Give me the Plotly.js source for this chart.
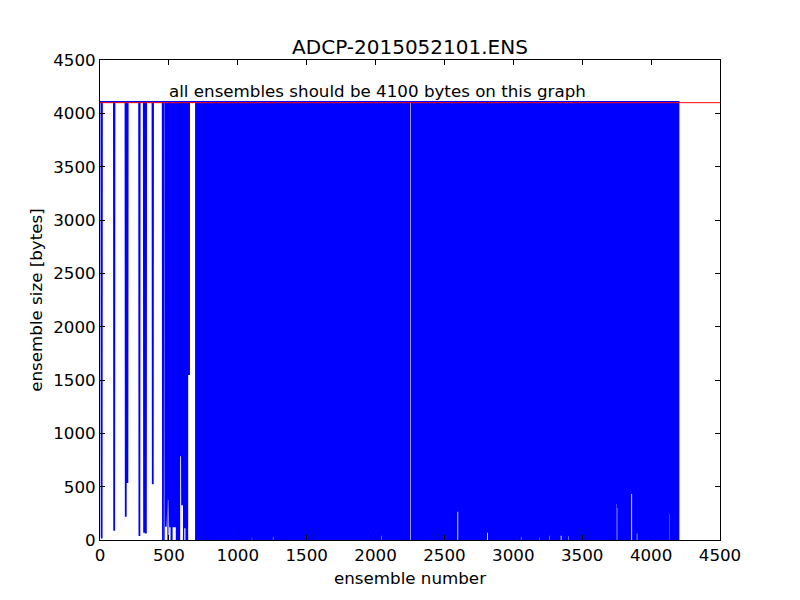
<!DOCTYPE html>
<html>
<head>
<meta charset="utf-8">
<script src="https://cdn.plot.ly/plotly-3.0.1.min.js"></script>
<style>
    body { margin: 0; background: #fff; }
    #ensemble-sizes { width: 800px; height: 600px; }
</style>
</head>
<body>
<div id="ensemble-sizes"></div>
<script>
var fileName = 'ADCP-2015052101.ENS';
var expectedBytes = 4100;
var fullBytes = 4108;      // good ensembles, as they sit on the graph
var lastEnsemble = 4205;

// single short ensembles near the start of the file
var shortEnsembles = [12, 103, 187, 199, 286, 320, 333, 383, 457];
var shortBytes     = [15, 87, 219, 534, 37, 69, 60, 522, 0];

// stretches where the short ensembles come so often they look like a solid band
var bandStart = [467, 690, 2256];
var bandEnd   = [653, 2252, 4205];

// places inside those stretches where the short ensembles stay above zero
var liftFrom  = [472, 487, 497, 503, 527, 582, 590, 612, 640, 1102, 1255, 2043, 2594, 2810, 3055, 3188, 3260, 3344, 3401, 3750, 3755, 3856, 3896, 4132];
var liftTo    = [484, 489, 499, 512, 550, 588, 602, 620, 653, 1104, 1258, 2046, 2600, 2816, 3058, 3190, 3263, 3350, 3404, 3752, 3757, 3862, 3900, 4134];
var liftBytes = [125, 405, 375, 120, 120, 785, 325, 110, 1547, 25, 30, 40, 266, 69, 31, 25, 40, 41, 35, 337, 300, 431, 60, 244];

function bandTrace(start, end) {
    let bottomX = [start];
    let bottomY = [0];
    for (let i = 0; i < liftFrom.length; i++) {
        if (liftFrom[i] < start || liftTo[i] > end) {
            continue;
        }
        bottomX.push(liftFrom[i], liftFrom[i], liftTo[i], liftTo[i]);
        bottomY.push(0, liftBytes[i], liftBytes[i], 0);
    }
    bottomX.push(end);
    bottomY.push(0);
    return {
        type: 'scatter',
        mode: 'lines',
        x: [start, end].concat(bottomX.reverse()),
        y: [fullBytes, fullBytes].concat(bottomY.reverse()),
        fill: 'toself',
        fillcolor: '#0000ff',
        line: { width: 0, color: '#0000ff' },
        hoverinfo: 'skip',
        showlegend: false
    };
}

let traces = [];
for (let i = 0; i < bandStart.length; i++) {
    traces.push(bandTrace(bandStart[i], bandEnd[i]));
}

// the ensemble size line itself, dropping at each short ensemble
let lineX = [0];
let lineY = [fullBytes];
for (let i = 0; i < shortEnsembles.length; i++) {
    lineX.push(shortEnsembles[i] - 2, shortEnsembles[i], shortEnsembles[i] + 2);
    lineY.push(fullBytes, shortBytes[i], fullBytes);
}
lineX.push(lastEnsemble);
lineY.push(fullBytes);
traces.push({
    type: 'scatter',
    mode: 'lines',
    x: lineX,
    y: lineY,
    line: { color: '#0000ff', width: 1.8 },
    showlegend: false
});

let axisStyle = {
    range: [0, 4500],
    dtick: 500,
    ticks: 'inside',
    ticklen: 5,
    tickwidth: 1,
    tickcolor: '#000',
    showline: true,
    linecolor: '#000',
    linewidth: 1,
    mirror: 'ticks',
    showgrid: false,
    zeroline: false,
    tickfont: { size: 16.7, color: '#000' }
};

let layout = {
    width: 800,
    height: 600,
    margin: { 't': 60, 'b': 60, 'l': 100, 'r': 80 },
    paper_bgcolor: '#fff',
    plot_bgcolor: '#fff',
    font: { family: 'DejaVu Sans', color: '#000' },
    showlegend: false,
    title: {
        text: fileName,
        font: { size: 20 },
        x: 0.5,
        xref: 'paper',
        y: 1 - 47 / 600,
        yanchor: 'middle'
    },
    xaxis: Object.assign({}, axisStyle, {
        title: { text: 'ensemble number', font: { size: 16.7 }, standoff: 8 }
    }),
    yaxis: Object.assign({}, axisStyle, {
        title: { text: 'ensemble size [bytes]', font: { size: 16.7 }, standoff: 6 }
    }),
    shapes: [{
        type: 'line',
        xref: 'paper',
        x0: 0,
        x1: 1,
        y0: expectedBytes,
        y1: expectedBytes,
        line: { color: '#ff0000', width: 1 }
    }],
    annotations: [{
        text: 'all ensembles should be 4100 bytes on this graph',
        x: 500,
        y: 4210,
        xanchor: 'left',
        yanchor: 'middle',
        xshift: -2,
        showarrow: false,
        font: { size: 16.7 }
    }]
};

Plotly.newPlot('ensemble-sizes', traces, layout, { staticPlot: true });
</script>
</body>
</html>
